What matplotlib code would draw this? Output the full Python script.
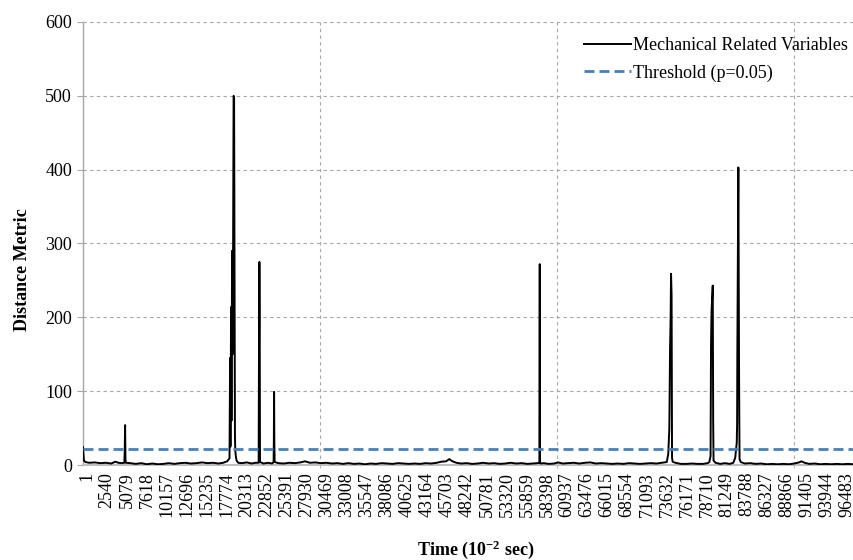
import matplotlib
matplotlib.use("Agg")
import matplotlib.pyplot as plt
import matplotlib.transforms as mtransforms

plt.rcParams['font.family'] = ['Liberation Serif', 'DejaVu Sans']
plt.rcParams['mathtext.fontset'] = 'custom'
plt.rcParams['mathtext.rm'] = 'Liberation Serif'
plt.rcParams['mathtext.bf'] = 'Liberation Serif:bold'
plt.rcParams['mathtext.default'] = 'bf'

# ---------------- data ----------------
series_label = "Mechanical Related Variables"
threshold_label = "Threshold (p=0.05)"
threshold_value = 22

n_samples = 97750

time_idx = [
    1, 40, 120, 300, 800, 1500, 2200, 2900, 3600, 4100, 4500, 4900, 5250, 5300, 5345, 5390, 5450,
    6000, 6700, 7400, 8100, 8800, 9500, 10200, 10900, 11600, 12300, 13000, 13700, 14400, 15100,
    15800, 16500, 17200, 17800, 18300, 18600,
    18673, 18720, 18800, 18850, 18927, 18990, 19054, 19120, 19181, 19240, 19290, 19330, 19400,
    19500, 19700, 20200, 20800, 21400, 21900, 22300,
    22340, 22370, 22392, 22430, 22470, 22900, 23500, 24000, 24200, 24230, 24258, 24290, 24330,
    24800, 25500, 26200, 26900, 27600, 28200, 28800, 29500, 30200, 30900, 31600, 32300, 33000,
    33700, 34400, 35100, 35800, 36500, 37200, 37900, 38600, 39300, 40000, 40700, 41400, 42100,
    42800, 43500, 44200, 44900, 45500, 46100, 46500, 46900, 47400, 48000, 48700, 49400, 50100,
    50800, 51500, 52200, 52900, 53600, 54300, 55000, 55700, 56400, 57100, 57700, 57940, 57970,
    57985, 58010, 58100, 58500, 59100, 59800, 60300, 60900, 61600, 62300, 63000, 63700, 64400,
    65100, 65800, 66500, 67200, 67900, 68600, 69300, 70000, 70700, 71400, 72100, 72800, 73500,
    74105, 74300, 74435, 74524, 74600, 74651, 74720, 74778, 74850, 75200, 75900, 76600, 77300,
    78000, 78700, 79300, 79513, 79666, 79729, 79793, 79945, 80000, 80047, 80300, 80900, 81500,
    82100, 82560, 82800, 82992, 83040, 83068, 83132, 83195, 83284, 83347, 83500, 84000, 84700,
    85400, 86100, 86800, 87500, 88200, 88900, 89600, 90300, 90900, 91200, 91600, 92200, 92900,
    93600, 94300, 95000, 95700, 96400, 97100, 97750,
]

distance = [
    24, 18, 6, 4, 3, 3.5, 2.5, 3, 2, 4.5, 3, 2.5, 3, 20, 54, 8, 3,
    2.5, 1.5, 2.5, 1, 2, 1, 1.5, 2.5, 1.5, 2.5, 3, 2, 2.5, 3.5,
    2.5, 3, 2, 3, 5, 9,
    145, 25, 214, 60, 290, 150, 290, 500, 498, 250, 40, 20, 12,
    6, 3, 2.5, 3.5, 2, 3, 3,
    147, 203, 275, 200, 4, 2, 3, 2, 4, 34, 99, 32, 4,
    2.5, 2, 3, 2.5, 3.5, 5, 3, 3.5, 2.5, 3, 2, 2.5, 1.5,
    2.5, 1.5, 2, 1, 2, 1.5, 2.5, 2, 1.5, 2.5, 2, 1.5, 2,
    1.5, 2.5, 2, 3, 4.5, 5, 8, 5, 3, 2, 2.5, 1.5, 2,
    3, 2, 2.5, 1.5, 2, 3, 2, 2.5, 1.5, 2, 2.5, 3, 248,
    272, 5, 2, 2.5, 1.5, 2, 3.5, 2, 2.5, 3, 2, 3, 3.5,
    2, 2.5, 2, 1.5, 2, 1.5, 2.5, 2, 1.5, 2, 2.5, 2, 3,
    4, 15, 50, 156, 200, 259, 230, 10, 4.5, 3, 1.5, 1.5, 2,
    1.5, 1.5, 2.5, 4, 12, 163, 208, 243, 60, 6, 3, 1.5, 2.5,
    1.5, 3, 10, 30, 56, 150, 278, 403, 129, 8, 4, 2, 2.5,
    1.5, 2, 1, 1.5, 1, 1.5, 1, 2, 3.5, 5, 3, 1.5, 2,
    1, 1.5, 1, 1.5, 1, 1.5, 1,
]

x_tick_values = [
    1, 2540, 5079, 7618, 10157, 12696, 15235, 17774, 20313, 22852, 25391, 27930, 30469,
    33008, 35547, 38086, 40625, 43164, 45703, 48242, 50781, 53320, 55859, 58398, 60937,
    63476, 66015, 68554, 71093, 73632, 76171, 78710, 81249, 83788, 86327, 88866, 91405,
    93944, 96483,
]
y_tick_values = [0, 100, 200, 300, 400, 500, 600]

# ---------------- figure ----------------
W, H = 854, 560
fig = plt.figure(figsize=(W / 100, H / 100), dpi=100)
ax_l, ax_r, ax_t, ax_b = 83, 853, 22, 465
ax = fig.add_axes([ax_l / W, 1 - ax_b / H, (ax_r - ax_l) / W, (ax_b - ax_t) / H])

ax.plot(time_idx, distance, color='black', lw=1.4, label=series_label, zorder=3)
ax.axhline(threshold_value, color='#4A7EBB', lw=2.0, dashes=(3.6, 1.8),
           label=threshold_label, zorder=4)

ax.set_xlim(0.5, n_samples + 0.5)
ax.set_ylim(0, 600)

ax.set_xticks(x_tick_values)
ax.set_xticklabels([str(v) for v in x_tick_values], rotation=90, fontsize=13)
ax.tick_params(axis='x', which='major', length=0, pad=5)
shift = mtransforms.ScaledTranslation(4 / 100, 0, fig.dpi_scale_trans)
for lbl in ax.get_xticklabels():
    lbl.set_transform(lbl.get_transform() + shift)
ax.set_xticks([0.5, 30100, 60180, 90260], minor=True)
ax.tick_params(axis='x', which='minor', length=5, direction='inout', color='#A6A6A6')

ax.set_yticks(y_tick_values)
ax.set_yticklabels([str(v) for v in y_tick_values], fontsize=13)
ax.tick_params(axis='y', length=4, color='#A6A6A6', pad=4)

ax.grid(axis='y', which='major', color='#A6A6A6', lw=0.8, dashes=(3, 3))
ax.grid(axis='x', which='minor', color='#A6A6A6', lw=0.8, dashes=(3, 3))
ax.set_axisbelow(True)

for s in ['top', 'right']:
    ax.spines[s].set_visible(False)
ax.spines['left'].set_color('#A6A6A6')
ax.spines['left'].set_linewidth(1.0)
ax.spines['bottom'].set_color('#BFBFBF')
ax.spines['bottom'].set_linewidth(1.5)

ax.set_ylabel('Distance Metric', fontsize=13, fontweight='bold')
ax.yaxis.set_label_coords((31 - ax_l) / (ax_r - ax_l), (ax_b - 270) / (ax_b - ax_t))
ax.set_xlabel(r'Time (10$^{-2}$ sec)', fontsize=13, fontweight='bold')
ax.xaxis.set_label_coords((476 - ax_l) / (ax_r - ax_l), (ax_b - 538) / (ax_b - ax_t))

leg = ax.legend(loc='upper right', bbox_to_anchor=(1.008, 0.99), frameon=False, fontsize=13,
                handlelength=2.6, handletextpad=0.15, labelspacing=0.55, borderaxespad=0.2)

fig.savefig('out.png', dpi=100)
